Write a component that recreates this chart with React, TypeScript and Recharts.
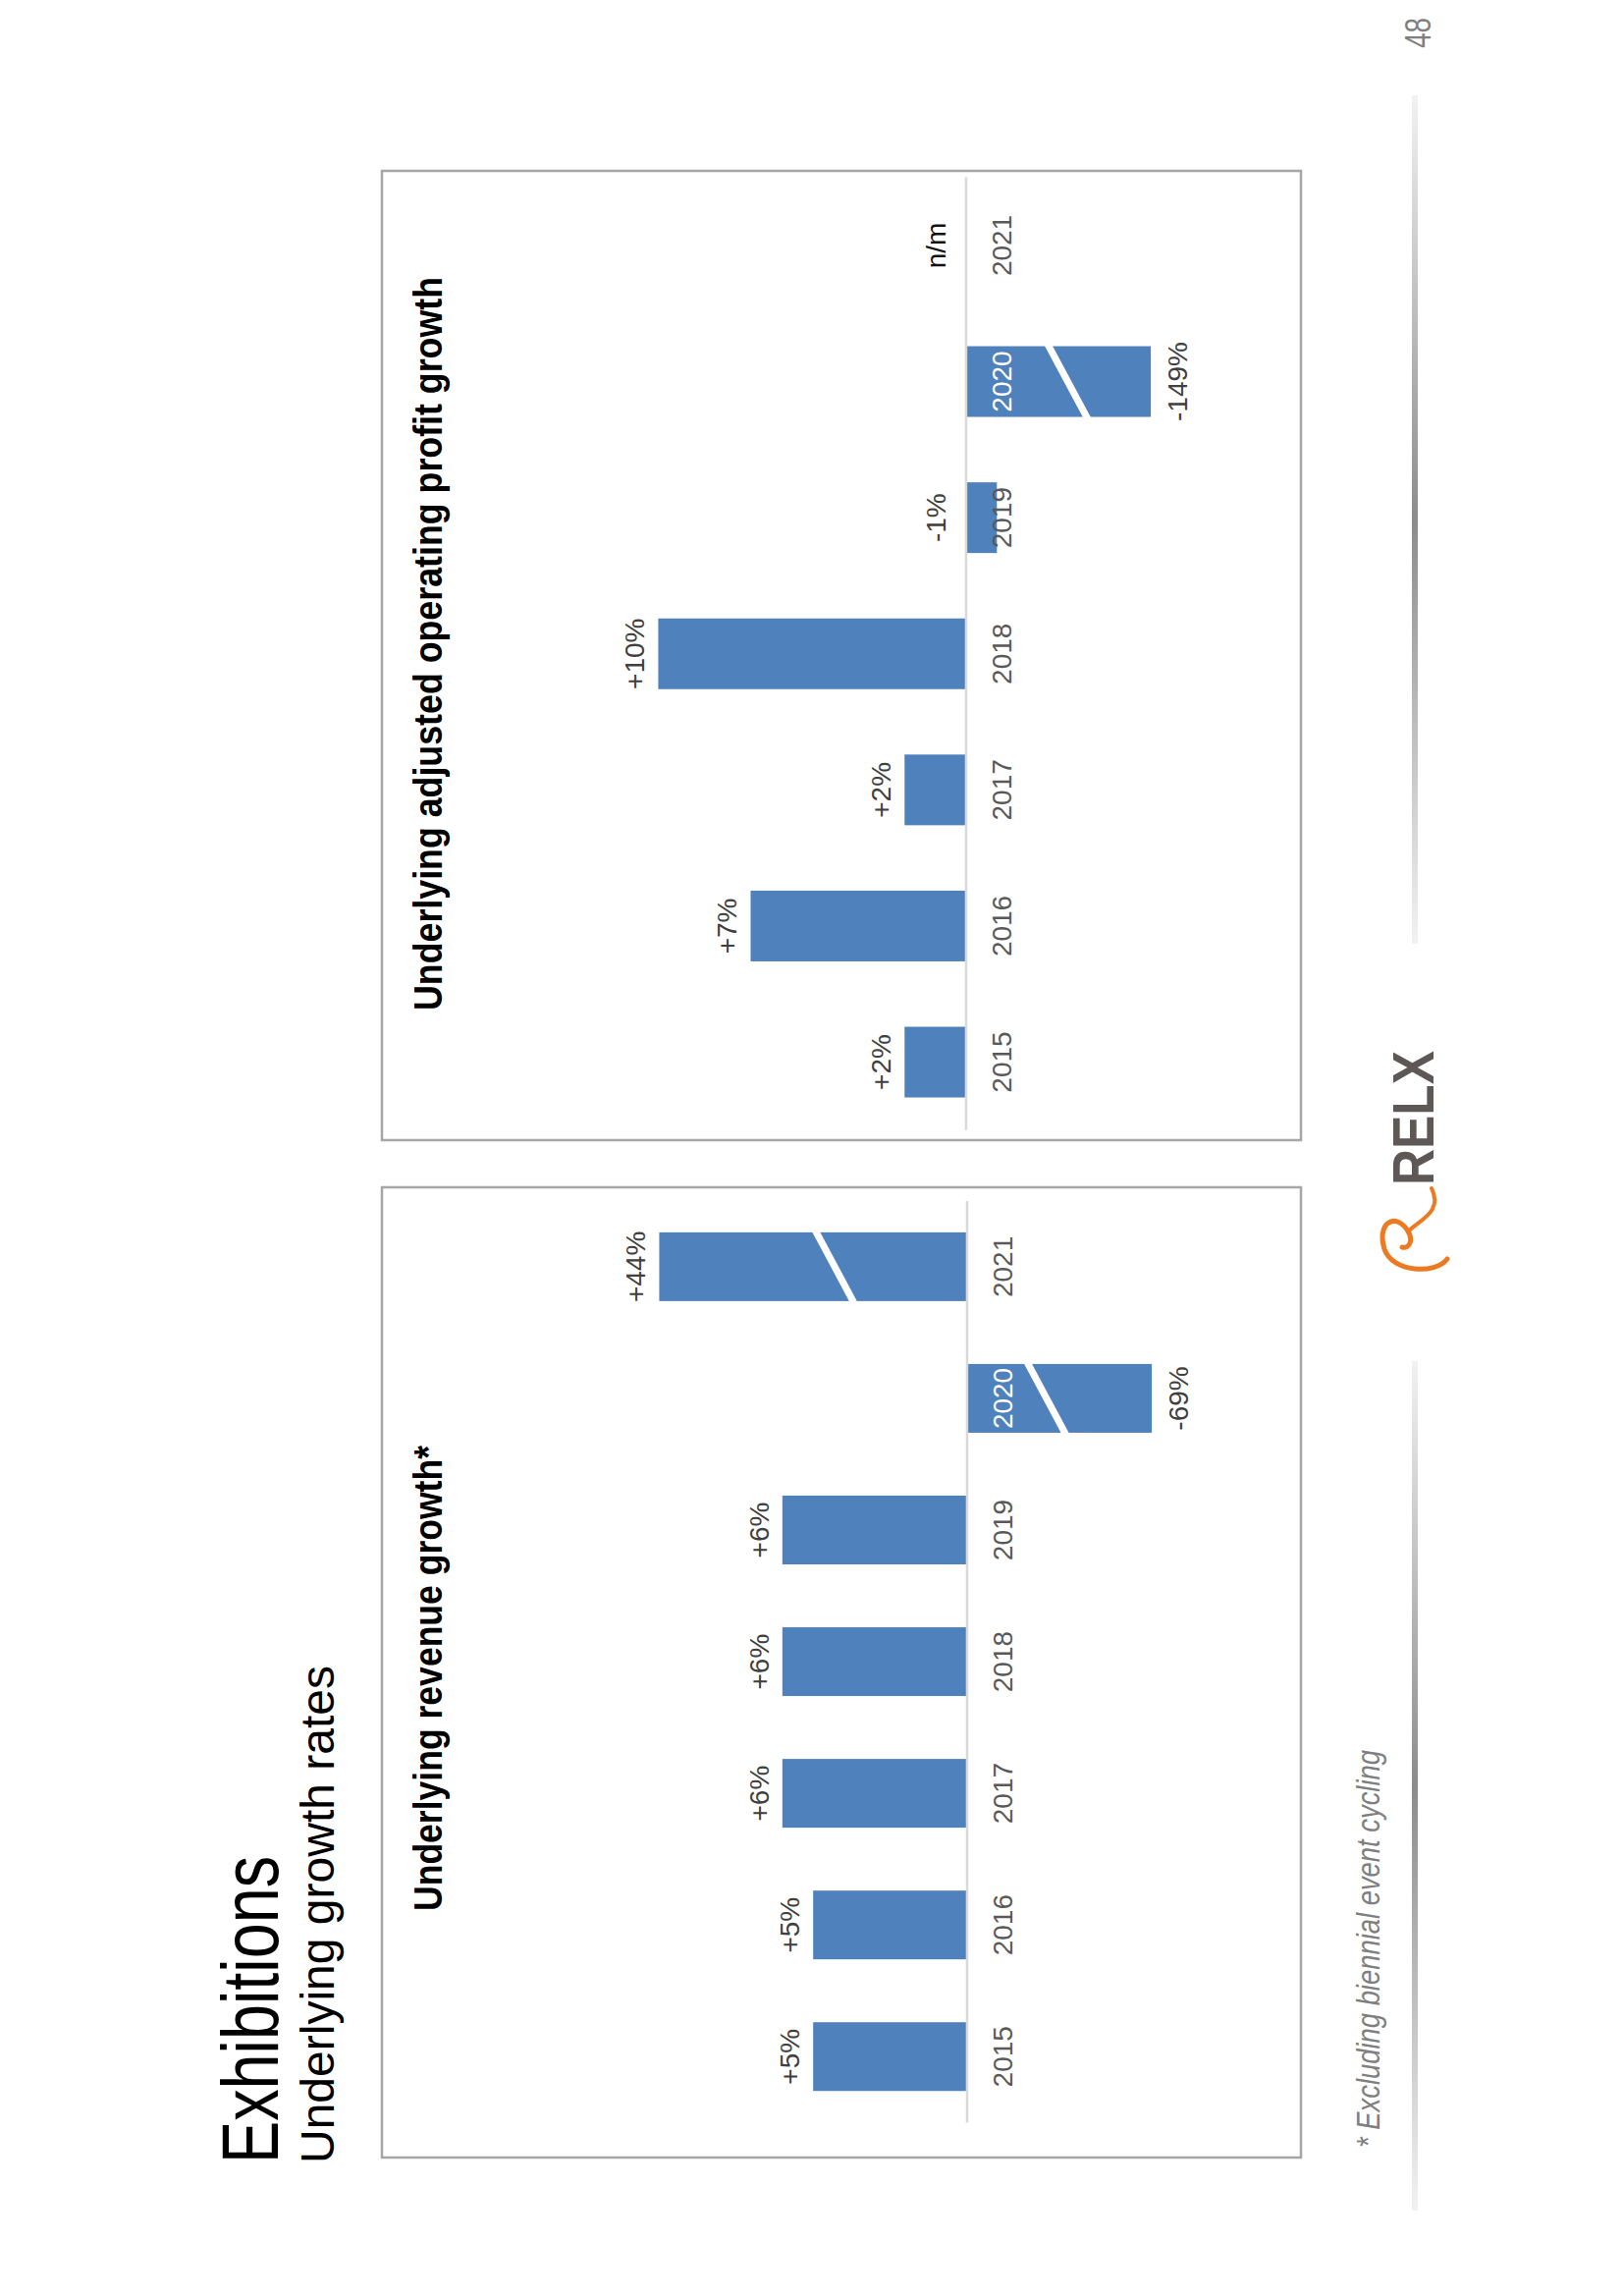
import { BarChart, Bar, XAxis, YAxis, ReferenceLine, LabelList } from 'recharts'

const years = ['2015', '2016', '2017', '2018', '2019', '2020', '2021']

// bar lengths as drawn on the slide (2020 / 2021 are broken bars, labels carry the real figure)
const revenueBars = [5, 5, 6, 6, 6, -6, 10]
const revenueLabels = ['+5%', '+5%', '+6%', '+6%', '+6%', '-69%', '+44%']
const revenueBroken = ['2020', '2021']

const profitBars = [2, 7, 2, 10, -1, -6, 0]
const profitLabels = ['+2%', '+7%', '+2%', '+10%', '-1%', '-149%', 'n/m']
const profitBroken = ['2020']

const valueDomain = [-10, 14]

const SLIDE_W = 2338
const SLIDE_H = 1653
const BLUE = '#4f81bd'
const NARROW = "'Liberation Sans Narrow', 'Arial Narrow', 'Liberation Sans', Arial, sans-serif"
const SANS = "'Liberation Sans', Arial, sans-serif"

type Row = { year: string; value: number; label: string; broken: boolean }

function buildRows(values: number[], labels: string[], broken: string[]): Row[] {
  return years.map((year, i) => ({
    year,
    value: values[i],
    label: labels[i],
    broken: broken.includes(year),
  }))
}

const revenueRows = buildRows(revenueBars, revenueLabels, revenueBroken)
const profitRows = buildRows(profitBars, profitLabels, profitBroken)

function box(vb: any) {
  const x = Number(vb.x)
  const y = Number(vb.y)
  const w = Number(vb.width)
  const h = Number(vb.height)
  return { x, w, top: Math.min(y, y + h), bottom: Math.max(y, y + h) }
}

// breakAt: where the white slash sits, as a share of the bar length from the axis
function makeBrokenBar(breakAt: number) {
  return (props: any) => {
    const { x, width, payload } = props
    const { top, bottom } = box(props)
    const h = bottom - top
    const rect = <rect x={x} y={top} width={width} height={h} fill={BLUE} />
    if (!payload || !payload.broken) return rect
    const cy = payload.value >= 0 ? bottom - h * breakAt : top + h * breakAt
    const rise = width * 0.55
    const t = 8
    const xl = x - 1
    const xr = x + width + 1
    const pts = [
      [xl, cy + rise / 2 - t / 2],
      [xr, cy - rise / 2 - t / 2],
      [xr, cy - rise / 2 + t / 2],
      [xl, cy + rise / 2 + t / 2],
    ]
    return (
      <g>
        {rect}
        <polygon points={pts.map((p) => p.join(',')).join(' ')} fill="#fff" />
      </g>
    )
  }
}

function makeValueLabel(rows: Row[]) {
  return (props: any) => {
    const row = rows.find((r) => r.year === props.value)
    if (!row) return null
    const { x, w, top, bottom } = box(props.viewBox ?? props)
    let baseY: number
    if (row.value > 0) baseY = top - 14
    else if (row.value > -2) baseY = top - 21 // small / n/m labels sit above the axis
    else baseY = bottom + 37
    return (
      <text
        x={x + w / 2}
        y={baseY}
        textAnchor="middle"
        fontFamily={NARROW}
        fontSize={28}
        fill={row.label === 'n/m' ? '#111' : '#404040'}
      >
        {row.label}
      </text>
    )
  }
}

function makeYearLabel(rows: Row[]) {
  return (props: any) => {
    const row = rows.find((r) => r.year === props.value)
    if (!row) return null
    const { x, w, top, bottom } = box(props.viewBox ?? props)
    const zero = row.value >= 0 ? bottom : top
    const covered = row.value < 0 && bottom - top > 46
    return (
      <text
        x={x + w / 2}
        y={zero + 46}
        textAnchor="middle"
        fontFamily={NARROW}
        fontSize={28}
        fill={covered ? '#ffffff' : '#595959'}
      >
        {row.year}
      </text>
    )
  }
}

interface GrowthChartProps {
  rows: Row[]
  width: number
  height: number
  breakAt: number
  margin: { top: number; right: number; bottom: number; left: number }
}

function GrowthChart({ rows, width, height, breakAt, margin }: GrowthChartProps) {
  return (
    <BarChart width={width} height={height} data={rows} margin={margin} barCategoryGap="24%">
      <XAxis dataKey="year" hide />
      <YAxis type="number" hide domain={valueDomain} allowDataOverflow />
      <ReferenceLine y={0} stroke="#d9d9d9" strokeWidth={2.5} />
      <Bar dataKey="value" shape={makeBrokenBar(breakAt)} isAnimationActive={false}>
        <LabelList dataKey="year" content={makeValueLabel(rows)} />
        <LabelList dataKey="year" content={makeYearLabel(rows)} />
      </Bar>
    </BarChart>
  )
}

function SlideOverlay() {
  return (
    <svg
      width={SLIDE_W}
      height={SLIDE_H}
      style={{ position: 'absolute', left: 0, top: 0, pointerEvents: 'none' }}
    >
      <defs>
        <linearGradient id="footerLine" x1="0" y1="0" x2="1" y2="0">
          <stop offset="0%" stopColor="#f2f2f2" />
          <stop offset="50%" stopColor="#8c8c8c" />
          <stop offset="100%" stopColor="#f2f2f2" />
        </linearGradient>
      </defs>

      <text x={135} y={283} fontFamily={NARROW} fontSize={82} fill="#000" textLength={313} lengthAdjust="spacingAndGlyphs">
        Exhibitions
      </text>
      <text x={135} y={340} fontFamily={SANS} fontSize={48} fill="#000" textLength={507} lengthAdjust="spacingAndGlyphs">
        Underlying growth rates
      </text>

      {/* chart panels */}
      <rect x={141} y={389} width={988} height={936} fill="none" stroke="#a6a6a6" strokeWidth={2.5} />
      <rect x={1177} y={389} width={987} height={936} fill="none" stroke="#a6a6a6" strokeWidth={2.5} />

      <text x={392} y={450} fontFamily={SANS} fontWeight="bold" fontSize={40} fill="#000" textLength={474} lengthAdjust="spacingAndGlyphs">
        Underlying revenue growth*
      </text>
      <text x={1309} y={450} fontFamily={SANS} fontWeight="bold" fontSize={40} fill="#000" textLength={747} lengthAdjust="spacingAndGlyphs">
        Underlying adjusted operating profit growth
      </text>

      {/* footer */}
      <text x={151} y={1405} fontFamily={NARROW} fontStyle="italic" fontSize={33} fill="#7f7f7f" textLength={405} lengthAdjust="spacingAndGlyphs">
        * Excluding biennial event cycling
      </text>
      <rect x={87} y={1438} width={865} height={6} fill="url(#footerLine)" />
      <rect x={1377} y={1438} width={864} height={6} fill="url(#footerLine)" />

      <g fill="none" stroke="#ec7a23" strokeLinecap="round">
        <path d="M1056 1474 C1040 1462 1042 1418 1066 1410 C1092 1402 1104 1420 1086 1433 C1076 1440 1066 1436 1068 1428" strokeWidth={5} />
        <path d="M1084 1434 C1096 1446 1104 1470 1128 1458" strokeWidth={4} />
      </g>
      <text x={1131} y={1460} fontFamily={SANS} fontWeight="bold" fontSize={60} fill="#5d5755" textLength={137} lengthAdjust="spacingAndGlyphs">
        RELX
      </text>

      <text x={2289} y={1457} fontFamily={NARROW} fontSize={37} fill="#7f7f7f" textLength={31} lengthAdjust="spacingAndGlyphs">
        48
      </text>
    </svg>
  )
}

export default function App() {
  return (
    <div
      style={{
        position: 'absolute',
        left: 0,
        top: 0,
        width: SLIDE_H,
        height: SLIDE_W,
        overflow: 'hidden',
        background: '#fff',
      }}
    >
      <div
        style={{
          position: 'absolute',
          left: 0,
          top: 0,
          width: SLIDE_W,
          height: SLIDE_H,
          transformOrigin: '0 0',
          transform: `translate(0px, ${SLIDE_W}px) rotate(-90deg)`,
        }}
      >
        <div style={{ position: 'absolute', left: 141, top: 389 }}>
          <GrowthChart
            rows={revenueRows}
            width={988}
            height={936}
            breakAt={0.43}
            margin={{ top: 157, right: 14, bottom: 26.5, left: 35.6 }}
          />
        </div>
        <div style={{ position: 'absolute', left: 1177, top: 389 }}>
          <GrowthChart
            rows={profitRows}
            width={987}
            height={936}
            breakAt={0.55}
            margin={{ top: 156, right: 6.6, bottom: 27.5, left: 10.2 }}
          />
        </div>
        <SlideOverlay />
      </div>
    </div>
  )
}
